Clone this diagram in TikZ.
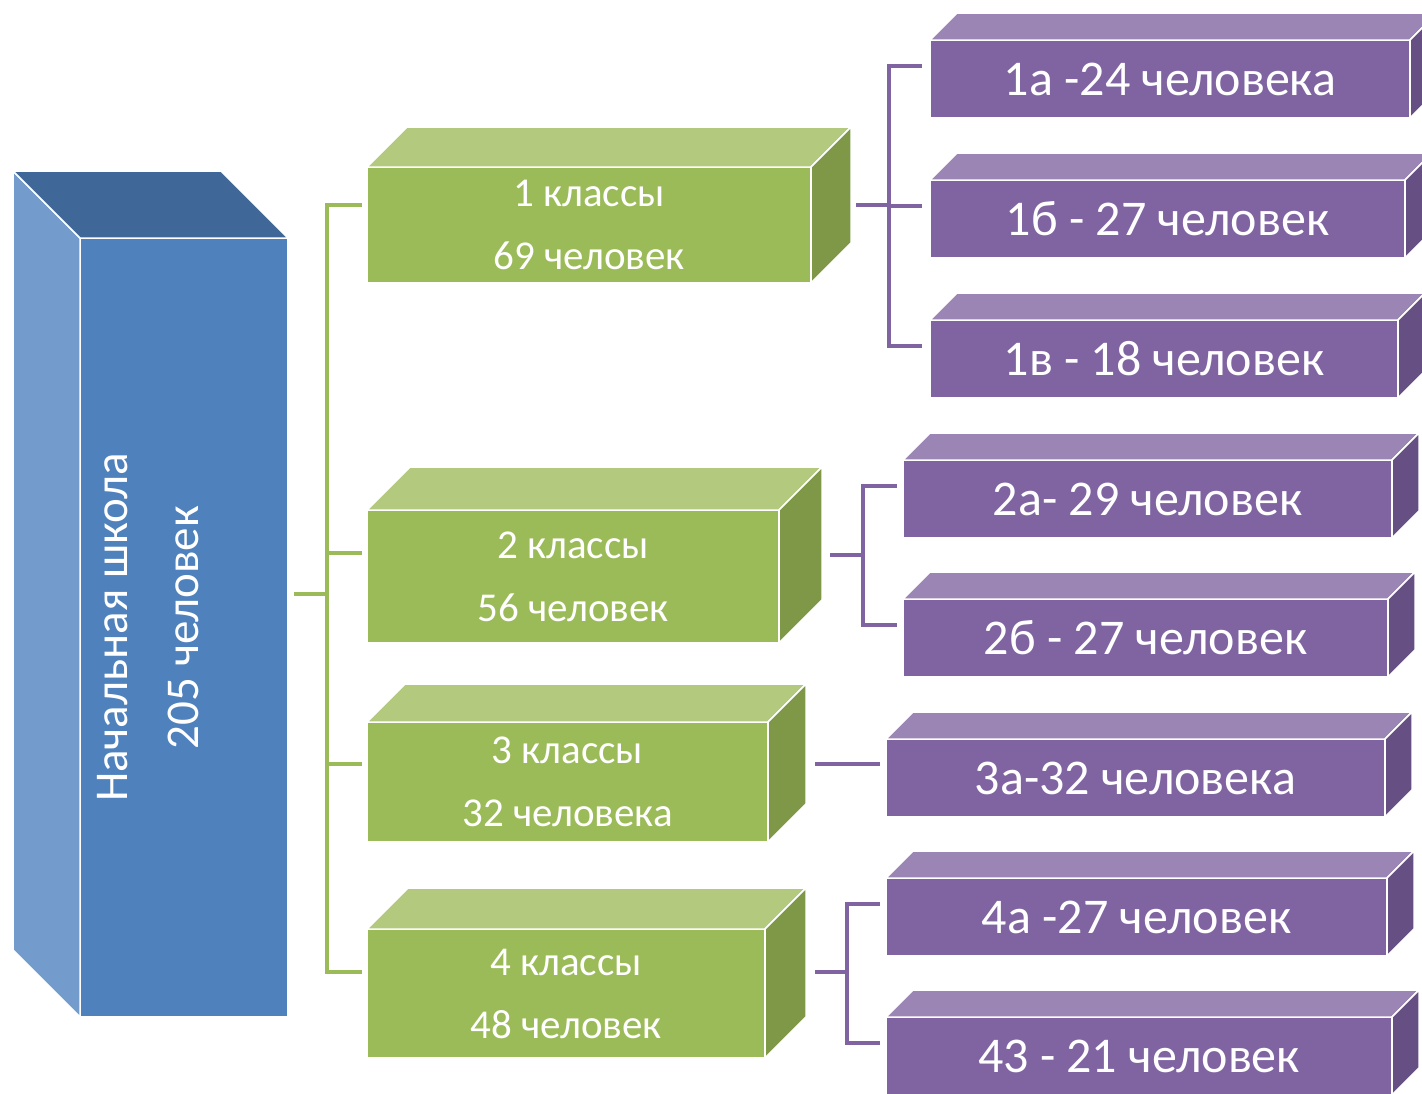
\documentclass[tikz,border=0pt]{standalone}
\usepackage{fontspec}
\setmainfont{Carlito}
\usepackage{tikz}
\usetikzlibrary{positioning,calc}
\definecolor{schoolblue}{RGB}{79,129,189}
\definecolor{schoolblueside}{RGB}{115,155,203}
\definecolor{schoolbluetop}{RGB}{63,104,152}
\definecolor{gradegreen}{RGB}{155,187,89}
\definecolor{gradegreentop}{RGB}{178,201,126}
\definecolor{gradegreenside}{RGB}{126,152,71}
\definecolor{classpurple}{RGB}{128,100,162}
\definecolor{classpurpletop}{RGB}{155,133,181}
\definecolor{classpurpleside}{RGB}{102,79,130}
\tikzstyle{greenlink} = [line width=4pt, color=gradegreen]
\tikzstyle{purplelink} = [line width=4pt, color=classpurple]
\tikzstyle{face} = [draw=white, line width=1.5pt, line join=round]
\tikzstyle{school} = [rectangle, minimum width=208pt, minimum height=779pt, fill=schoolblue, draw=white, line width=1.5pt, outer sep=0pt]
\tikzstyle{gradebox} = [rectangle, fill=gradegreen, draw=white, line width=1.5pt, outer sep=0pt, inner sep=0pt, text=white, align=center, font=\fontsize{41}{63}\selectfont]
\tikzstyle{classbox} = [rectangle, minimum height=78pt, fill=classpurple, draw=white, line width=1.5pt, outer sep=0pt, inner sep=0pt, text=white, font=\fontsize{50}{60}\selectfont]

\begin{document}
\begin{tikzpicture}[x=1pt, y=-1pt]
\useasboundingbox (0,0) rectangle (1422,1093);

% Primary school
\node (school) [school] at (184,627.5) {};
\fill[schoolblueside, face] (school.north west) -- ++(-67,-67) -- ([shift={(-67,-67)}]school.south west) -- (school.south west) -- cycle;
\fill[schoolbluetop, face] (school.north west) -- ++(-67,-67) -- ([shift={(-67,-67)}]school.north east) -- (school.north east) -- cycle;
\node (schooltext) [rotate=90, text=white, align=center, font=\fontsize{47}{71}\selectfont] at ([xshift=-36pt]school.center) {Начальная школа\\205 человек};

% Grades
\node (grade1) [gradebox, minimum width=444pt, minimum height=116pt] at (589,225) {1 классы\\69 человек};
\node (grade2) [gradebox, minimum width=412pt, minimum height=133pt] at (573,576.5) {2 классы\\56 человек};
\node (grade3) [gradebox, minimum width=401pt, minimum height=120pt] at (567.5,782) {3 классы\\32 человека};
\node (grade4) [gradebox, minimum width=398pt, minimum height=129pt] at (566,993.5) {4 классы\\48 человек};

% Classes
\node (class1a) [classbox, minimum width=480pt] at (1170,79) {1а -24 человека};
\node (class1b) [classbox, minimum width=475pt] at (1167.5,219) {1б - 27 человек};
\node (class1v) [classbox, minimum width=468pt] at (1164,359) {1в - 18 человек};
\node (class2a) [classbox, minimum width=489pt] at (1147.5,499) {2а- 29 человек};
\node (class2b) [classbox, minimum width=485pt] at (1145.5,638) {2б - 27 человек};
\node (class3a) [classbox, minimum width=499pt] at (1135.5,778) {3а-32 человека};
\node (class4a) [classbox, minimum width=501pt] at (1136.5,917) {4а -27 человек};
\node (class4b) [classbox, minimum width=506pt] at (1139,1056) {43 - 21 человек};

% top and side faces
\foreach \n/\d in {grade1/40, grade2/43, grade3/38, grade4/41} {
  \fill[gradegreentop, face] (\n.north west) -- ++(\d,-\d) -- ([shift={(\d,-\d)}]\n.north east) -- (\n.north east) -- cycle;
  \fill[gradegreenside, face] (\n.north east) -- ++(\d,-\d) -- ([shift={(\d,-\d)}]\n.south east) -- (\n.south east) -- cycle;
}
\foreach \n in {class1a, class1b, class1v, class2a, class2b, class3a, class4a, class4b} {
  \fill[classpurpletop, face] (\n.north west) -- ++(27,-27) -- ([shift={(27,-27)}]\n.north east) -- (\n.north east) -- cycle;
  \fill[classpurpleside, face] (\n.north east) -- ++(27,-27) -- ([shift={(27,-27)}]\n.south east) -- (\n.south east) -- cycle;
}

% school to grades
\draw[greenlink, shorten <=6pt] ([yshift=34pt]school.east) -- ++(39,0) coordinate (gtrunk);
\foreach \g/\s in {grade1/20, grade2/23.5, grade3/18, grade4/21.5}
  \draw[greenlink, shorten >=5pt] (gtrunk) |- ([yshift=\s pt]\g.west);

% grades to classes
\draw[purplelink, shorten <=5pt] ([shift={(40pt,20pt)}]grade1.east) -- ++(38,0) coordinate (ptrunk1);
\foreach \c in {class1a, class1b, class1v}
  \draw[purplelink, shorten >=8pt] (ptrunk1) |- ([yshift=13pt]\c.west);
\draw[purplelink, shorten <=8pt] ([shift={(43pt,21.5pt)}]grade2.east) -- ++(41,0) coordinate (ptrunk2);
\foreach \c in {class2a, class2b}
  \draw[purplelink, shorten >=6pt] (ptrunk2) |- ([yshift=13pt]\c.west);
\draw[purplelink, shorten <=9pt, shorten >=6pt] ([shift={(38pt,18pt)}]grade3.east) -- ([yshift=14pt]class3a.west);
\draw[purplelink, shorten <=9pt] ([shift={(41pt,21.5pt)}]grade4.east) -- ++(41,0) coordinate (ptrunk4);
\foreach \c in {class4a, class4b}
  \draw[purplelink, shorten >=6pt] (ptrunk4) |- ([yshift=13pt]\c.west);

\end{tikzpicture}
\end{document}
